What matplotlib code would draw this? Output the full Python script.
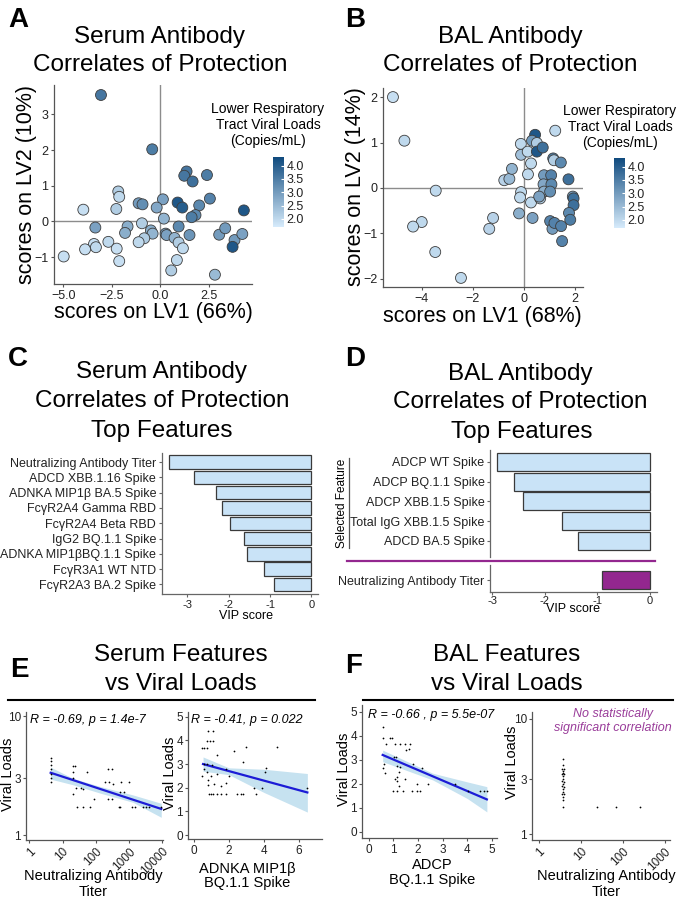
import numpy as np
import matplotlib
matplotlib.use("Agg")
import matplotlib.pyplot as plt
from matplotlib.colors import LinearSegmentedColormap
from matplotlib.lines import Line2D
from matplotlib.ticker import FixedLocator, NullLocator

plt.rcParams['font.family'] = ['Liberation Sans', 'DejaVu Sans']
plt.rcParams['axes.linewidth'] = 0.9

W, H = 682, 900

# A: serum PLSR scores
serum_lv1 = [-3.06, -0.42, 1.35, 1.23, 1.66, 2.40, 2.55, 2.00, 0.89, 1.13, 1.81, 1.61, 4.30,
             0.13, -0.19, 0.18, 0.94, -1.12, -0.92, -0.95, -0.49, -0.40, 0.27, 0.32, 0.73, 0.94,
             1.16, 0.85, 0.56, 1.50, 2.81, 3.03, 3.34, 3.82, 3.72, 4.22, -2.17, -2.12, -2.27,
             -3.97, -3.35, -1.69, -1.82, -0.83, -1.12, -2.68, -3.42, -3.32, -3.88, -2.25, -2.12, -4.98]
serum_lv2 = [3.54, 2.02, 1.40, 1.28, 1.12, 1.30, 0.64, 0.45, 0.53, 0.39, 0.18, 0.12, 0.31,
             0.62, 0.39, 0.08, -0.14, 0.51, 0.48, -0.05, -0.25, -0.34, -0.34, -0.38, -0.46, -0.59,
             -0.75, -1.08, -1.37, -0.38, -1.49, -0.37, -0.19, -0.52, -0.71, -0.35, 0.84, 0.69, 0.35,
             0.33, -0.17, -0.14, -0.32, -0.47, -0.58, -0.57, -0.63, -0.72, -0.78, -0.76, -1.11, -0.98]
serum_vl = [3.6, 3.5, 3.6, 3.6, 3.7, 3.5, 3.4, 3.3, 4.1, 4.0, 3.3, 3.5, 4.1,
            2.9, 2.8, 2.6, 3.3, 3.0, 3.2, 2.2, 2.7, 2.6, 3.0, 2.9, 2.6, 2.2,
            2.0, 2.0, 2.2, 3.1, 2.5, 3.0, 3.0, 3.0, 4.1, 2.9, 2.2, 2.0, 2.2,
            1.9, 2.9, 2.7, 2.7, 2.2, 2.0, 2.0, 1.9, 2.0, 1.9, 1.9, 1.9, 1.9]

# B: BAL PLSR scores
bal_lv1 = [-5.13, -4.68, -3.45, -4.0, -4.34, -3.47, -2.46, -1.20, -1.35, -0.76, -0.56, -0.46,
           -0.11, -0.10, -0.10, -0.14, -0.18, 0.16, 0.45, 0.33, 0.52, 0.52, 0.75, 0.29, 0.17,
           0.29, 0.35, 1.24, 1.16, 1.19, 1.46, 0.80, 1.08, 0.78, 1.09, 0.80, 1.04, 0.65, 0.61,
           1.76, 1.93, 1.96, 1.96, 1.78, 1.83, 1.04, 1.13, 1.21, 1.47, 1.51]
bal_lv2 = [2.0, 1.04, -0.06, -0.75, -0.85, -1.41, -1.98, -0.66, -0.90, 0.17, 0.20, 0.42,
           0.97, 0.73, -0.09, -0.21, -0.56, 0.80, 1.17, 1.04, 0.99, 0.80, 0.89, 0.54, 0.30,
           -0.32, -0.66, 1.26, 0.65, 0.61, 0.56, 0.28, 0.28, 0.08, 0.08, -0.08, -0.08, -0.23, -0.19,
           0.19, -0.19, -0.23, -0.38, -0.55, -0.70, -0.73, -0.90, -0.77, -0.84, -1.17]
bal_vl = [1.9, 2.0, 2.0, 2.0, 2.0, 2.0, 2.0, 2.1, 2.1, 2.1, 2.5, 2.6,
          2.0, 2.4, 2.0, 2.0, 2.7, 2.0, 4.1, 3.0, 2.2, 4.1, 3.7, 2.0, 2.0,
          2.0, 2.9, 2.0, 3.5, 2.2, 3.3, 3.0, 3.4, 2.8, 3.3, 2.7, 3.2, 2.2, 2.9,
          3.7, 3.0, 3.7, 3.7, 3.3, 3.5, 3.4, 3.0, 3.4, 3.4, 3.4]

# C: serum top features (VIP)
serum_features = ["Neutralizing Antibody Titer", "ADCD XBB.1.16 Spike", "ADNKA MIP1β BA.5 Spike",
                  "FcγR2A4 Gamma RBD", "FcγR2A4 Beta RBD", "IgG2 BQ.1.1 Spike",
                  "ADNKA MIP1βBQ.1.1 Spike", "FcγR3A1 WT NTD", "FcγR2A3 BA.2 Spike"]
serum_vip = [-3.44, -2.85, -2.31, -2.15, -1.97, -1.62, -1.55, -1.14, -0.91]

# D: BAL top features (VIP)
bal_features = ["ADCP WT Spike", "ADCP BQ.1.1 Spike", "ADCP XBB.1.5 Spike",
                "Total IgG XBB.1.5 Spike", "ADCD BA.5 Spike"]
bal_vip = [-2.90, -2.59, -2.41, -1.67, -1.37]
bal_neut_feature = ["Neutralizing Antibody Titer"]
bal_neut_vip = [-0.91]

# E left: neutralizing titer vs viral load (serum)
e1_x = [4.4, 4.4, 4.4, 4.4, 4.4, 4.4, 4.4, 21, 23, 21, 21, 21, 25, 27.5, 37, 40, 42, 55, 69, 89,
        186, 234, 316, 251, 331, 234, 309, 589, 1000, 525, 692, 501, 550, 1259, 1479, 2630, 3311,
        3890, 9330]
e1_y = [4.5, 4.2, 3.9, 3.6, 3.3, 3.0, 2.8, 3.8, 3.8, 3.4, 3.0, 2.2, 2.5, 1.73, 2.5, 2.45, 1.73,
        3.4, 1.73, 2.0, 2.8, 3.6, 3.6, 2.8, 2.7, 2.0, 2.0, 2.8, 2.8, 2.3, 2.3, 1.73, 1.73, 1.73,
        1.73, 1.73, 1.73, 1.73, 1.73]
e1_fit_x = [4.4, 21, 140, 1300, 9300]
e1_fit_y = [3.35, 2.88, 2.42, 2.04, 1.66]
e1_lo = [2.96, 2.65, 2.25, 1.89, 1.41]
e1_hi = [3.73, 3.00, 2.56, 2.18, 1.85]

# E right: ADNKA MIP1b BQ.1.1 vs viral load
e2_x = [0.8, 1.1, 0.75, 0.9, 1.1, 0.48, 0.6, 0.77, 1.34, 2.27, 2.95, 4.73, 0.57, 0.77, 1.05,
        0.73, 0.55, 0.48, 0.97, 1.34, 1.81, 2.0, 0.82, 1.14, 1.53, 1.81, 0.8, 2.8, 4.13, 4.08,
        3.87, 3.43, 6.48, 0.86, 0.99, 1.11, 1.34, 1.57, 1.81, 2.48, 2.67, 2.82, 3.53]
e2_y = [4.4, 4.4, 3.96, 3.96, 3.96, 3.68, 3.68, 3.68, 3.4, 3.54, 3.7, 3.7, 3.0, 3.0, 2.97,
        2.66, 2.8, 2.5, 2.5, 2.6, 2.78, 2.5, 2.32, 2.14, 2.07, 2.18, 2.1, 3.08, 2.83, 2.66,
        2.0, 2.0, 2.0, 1.74, 1.74, 1.74, 1.74, 1.74, 1.74, 1.74, 1.74, 1.74, 1.74]
e2_fit_x = [0.52, 2.0, 4.0, 6.48]
e2_fit_y = [3.0, 2.7, 2.3, 1.8]
e2_lo = [2.7, 2.55, 1.8, 0.97]
e2_hi = [3.3, 2.84, 2.78, 2.6]

# F left: ADCP BQ.1.1 vs viral load (BAL)
f1_x = [0.58, 0.58, 0.85, 0.94, 0.71, 1.08, 1.26, 1.49, 1.66, 1.62, 1.5, 0.61, 0.57, 0.67, 1.01,
        1.12, 1.17, 1.25, 1.15, 1.08, 1.15, 1.28, 1.48, 1.25, 1.82, 2.16, 1.96, 2.39, 1.0, 1.15,
        1.38, 1.76, 1.96, 2.09, 3.51, 4.05, 4.52, 4.68, 4.79]
f1_y = [4.35, 3.9, 3.9, 3.9, 3.67, 3.67, 3.67, 3.67, 3.67, 3.45, 3.4, 2.82, 2.64, 2.46, 3.1,
        3.1, 2.74, 2.5, 2.3, 2.2, 2.1, 2.7, 2.2, 1.9, 2.82, 2.64, 2.0, 2.0, 1.72, 1.72,
        1.72, 1.72, 1.72, 1.72, 2.0, 1.72, 1.72, 1.72, 1.72]
f1_fit_x = [0.57, 2.6, 4.0, 4.8]
f1_fit_y = [3.2, 2.31, 1.7, 1.35]
f1_lo = [2.92, 2.16, 1.39, 0.83]
f1_hi = [3.4, 2.44, 2.08, 1.88]

# F right: neutralizing titer vs viral load (BAL)
f2_x = [3.8, 3.8, 3.6, 3.9, 3.7, 3.8, 3.6, 4.0, 3.7, 3.8, 3.6, 3.9, 3.75, 3.6, 3.9, 3.7, 3.8,
        3.6, 3.95, 3.7, 3.8, 3.8, 24.6, 69, 260]
f2_y = [4.5, 4.0, 3.7, 3.7, 3.55, 3.4, 3.35, 3.35, 3.2, 3.0, 2.9, 2.85, 2.7, 2.6, 2.55, 2.45,
        2.3, 2.25, 2.25, 2.1, 2.0, 1.73, 1.73, 1.73, 1.73]

cmap = LinearSegmentedColormap.from_list("vl", ["#d6ebfb", "#0f4a7e"])
BAR = "#c9e3f7"
PURPLE = "#93278f"

fig = plt.figure(figsize=(W / 100, H / 100), dpi=100)


def px_axes(l, t, r, b):
    return fig.add_axes([l / W, 1 - b / H, (r - l) / W, (b - t) / H])


def px_text(x, y, s, **kw):
    fig.text(x / W, 1 - y / H, s, **kw)


def px_line(x0, x1, y0, y1, **kw):
    fig.add_artist(Line2D([x0 / W, x1 / W], [1 - y0 / H, 1 - y1 / H],
                          transform=fig.transFigure, **kw))


def classic(ax, size=9.5, color='#555555'):
    for s in ['top', 'right']:
        ax.spines[s].set_visible(False)
    for s in ['left', 'bottom']:
        ax.spines[s].set_color(color)
    ax.tick_params(length=2.5, width=0.8, color=color, labelsize=size, pad=1.5,
                   labelcolor='#222222')


# ---------- panel titles ----------
big = dict(fontsize=17.5, ha='center', va='baseline')
letter = dict(fontsize=20, fontweight='bold', va='baseline', ha='left')
px_text(8, 27, "A", **letter)
px_text(160, 43, "Serum Antibody", **big)
px_text(160, 71, "Correlates of Protection", **big)
px_text(345, 27, "B", **letter)
px_text(510, 43, "BAL Antibody", **big)
px_text(510, 71, "Correlates of Protection", **big)
px_text(8, 366, "C", **letter)
px_text(162, 378, "Serum Antibody", **big)
px_text(162, 407, "Correlates of Protection", **big)
px_text(162, 437, "Top Features", **big)
px_text(345, 366, "D", **letter)
px_text(520, 380, "BAL Antibody", **big)
px_text(520, 408, "Correlates of Protection", **big)
px_text(522, 438, "Top Features", **big)
px_text(10, 677, "E", **letter)
px_text(181, 661, "Serum Features", **big)
px_text(181, 690, "vs Viral Loads", **big)
px_text(345, 673, "F", **letter)
px_text(507, 661, "BAL Features", **big)
px_text(507, 690, "vs Viral Loads", **big)
px_line(8, 315, 700, 700, color='black', lw=1.5)
px_line(363, 673, 700, 700, color='black', lw=1.5)

# ---------- A / B score plots ----------
score_panels = [
    (serum_lv1, serum_lv2, serum_vl, (54, 85, 252, 284), (-5.48, 4.72), (-1.75, 3.82),
     [-5.0, -2.5, 0.0, 2.5], [-1, 0, 1, 2, 3], "scores on LV1 (66%)", "scores on LV2 (10%)",
     (153, 318), (27, 184), (273, 157, 284, 227), (268, 125)),
    (bal_lv1, bal_lv2, bal_vl, (383, 88, 583, 287), (-5.52, 2.33), (-2.18, 2.2),
     [-4, -2, 0, 2], [-2, -1, 0, 1, 2], "scores on LV1 (68%)", "scores on LV2 (14%)",
     (482, 322), (355, 187), (614, 158, 625, 228), (620, 127)),
]
for (lx, ly, vl, box, xl, yl, xt, yt, xlab, ylab, xlpos, ylpos, cbox, legpos) in score_panels:
    ax = px_axes(*box)
    ax.axvline(0, color='#8c8c8c', lw=1, zorder=1)
    ax.axhline(0, color='#8c8c8c', lw=1, zorder=1)
    sc = ax.scatter(lx, ly, c=vl, cmap=cmap, vmin=1.7, vmax=4.32, s=62,
                    edgecolors='#3d3d3d', linewidths=0.6, zorder=3)
    ax.set_xlim(*xl)
    ax.set_ylim(*yl)
    ax.set_xticks(xt)
    ax.set_yticks(yt)
    if isinstance(xt[0], float):
        ax.set_xticklabels([f"{v:.1f}".replace("-", "\u2212") for v in xt])
    classic(ax, size=9)
    px_text(xlpos[0], xlpos[1], xlab, fontsize=15.5, ha='center', va='baseline')
    px_text(ylpos[0], ylpos[1], ylab, fontsize=15.5, ha='center', va='center', rotation=90)
    cax = px_axes(*cbox)
    cb = fig.colorbar(sc, cax=cax)
    cb.outline.set_visible(False)
    cb.set_ticks([2.0, 2.5, 3.0, 3.5, 4.0])
    cb.set_ticklabels(["2.0", "2.5", "3.0", "3.5", "4.0"])
    cax.tick_params(length=2, width=0.8, color='white', direction='in', labelsize=9,
                    pad=2, labelcolor='#222222')
    px_text(legpos[0], legpos[1], "Lower Respiratory\nTract Viral Loads\n(Copies/mL)",
            fontsize=10, ha='center', va='center', linespacing=1.22)

# ---------- C ----------
ax = px_axes(161.7, 453, 318, 594.3)
pos = np.arange(len(serum_features))
ax.barh(pos, serum_vip, height=0.88, color=BAR, edgecolor='#3a3a3a', linewidth=0.9)
ax.set_xlim(-3.62, 0.16)
ax.set_ylim(len(serum_features) - 0.35, -0.6)
ax.set_yticks(pos)
ax.set_yticklabels(serum_features)
ax.set_xticks([-3, -2, -1, 0])
ax.set_xticklabels(["-3", "-2", "-1", "0"])
classic(ax, size=9, color='#666666')
ax.tick_params(axis='x', labelsize=8)
px_text(246, 619, "VIP score", fontsize=9, ha='center', va='baseline')

# ---------- D ----------
axt = px_axes(490, 450, 657, 557)
pos = np.arange(len(bal_features))
axt.barh(pos, bal_vip, height=0.9, color=BAR, edgecolor='#3a3a3a', linewidth=0.9)
axt.set_xlim(-3.04, 0.13)
axt.set_ylim(len(bal_features) - 1 + 0.83, -0.61)
axt.set_yticks(pos)
axt.set_yticklabels(bal_features)
classic(axt, size=9, color='#666666')
axt.spines['bottom'].set_visible(False)
axt.set_xticks([])

axb = px_axes(490, 565, 657, 592.3)
axb.barh([0], bal_neut_vip, height=0.9, color=PURPLE, edgecolor='#3a3a3a', linewidth=0.9)
axb.set_xlim(-3.04, 0.13)
axb.set_ylim(0.62, -0.76)
axb.set_yticks([0])
axb.set_yticklabels(bal_neut_feature)
axb.set_xticks([-3, -2, -1, 0])
axb.set_xticklabels(["-3", "-2", "-1", "0"])
classic(axb, size=9, color='#666666')
axb.tick_params(axis='x', labelsize=8, pad=0.5)
px_text(573, 612, "VIP score", fontsize=9, ha='center', va='baseline')
px_line(347, 655, 561, 561, color=PURPLE, lw=1.6)
px_line(349, 349, 458, 548, color='#555555', lw=0.9)
px_text(342, 503, "Selected Feature", fontsize=8.5, ha='center', va='center', rotation=90)


# ---------- E / F correlation plots ----------
def corr_panel(box, x, y, xlim, ylim, logx, logy, xt, yt, fit=None):
    ax = px_axes(*box)
    if logx:
        ax.set_xscale('log')
    if logy:
        ax.set_yscale('log')
    if fit is not None:
        fx, fy, lo, hi = fit
        ax.fill_between(fx, lo, hi, color='#c6e2f0', lw=0, zorder=1)
        ax.plot([fx[0], fx[-1]], [fy[0], fy[-1]], color='#1c1cd6', lw=1.6, zorder=2)
    ax.scatter(x, y, s=1.6, color='black', linewidths=0, zorder=3)
    ax.set_xlim(*xlim)
    ax.set_ylim(*ylim)
    ax.xaxis.set_major_locator(FixedLocator(xt))
    ax.yaxis.set_major_locator(FixedLocator(yt))
    ax.xaxis.set_minor_locator(NullLocator())
    ax.yaxis.set_minor_locator(NullLocator())
    ax.set_yticklabels([str(v) for v in yt])
    if logx:
        ax.set_xticklabels([str(v) for v in xt], rotation=45, ha='right',
                           rotation_mode='anchor')
    else:
        ax.set_xticklabels([str(v) for v in xt])
    classic(ax, size=8.5, color='#555555')
    ax.tick_params(axis='y', pad=1)
    return ax


corr_panel((25.7, 712, 163, 840), e1_x, e1_y, (0.78, 10500), (0.908, 10.9), True, True,
           [1, 10, 100, 1000, 10000], [1, 3, 10], (e1_fit_x, e1_fit_y, e1_lo, e1_hi))
corr_panel((188, 712, 321.7, 839.3), e2_x, e2_y, (-0.34, 7.3), (-0.18, 5.2), False, False,
           [0, 2, 4, 6], [0, 1, 2, 3, 4, 5], (e2_fit_x, e2_fit_y, e2_lo, e2_hi))
corr_panel((362, 705, 496.7, 838.3), f1_x, f1_y, (-0.27, 5.2), (-0.27, 5.28), False, False,
           [0, 1, 2, 3, 4, 5], [0, 1, 2, 3, 4, 5], (f1_fit_x, f1_fit_y, f1_lo, f1_hi))
corr_panel((532, 712, 670, 840), f2_x, f2_y, (0.69, 1350), (0.894, 11.4), True, True,
           [1, 10, 100, 1000], [1, 3, 10])

it = dict(fontsize=9, style='italic', ha='left', va='baseline')
px_text(30, 723, "R = -0.69, p = 1.4e-7", **it)
px_text(191, 723, "R = -0.41, p = 0.022", **it)
px_text(368, 718, "R = -0.66 , p = 5.5e-07", **it)
px_text(613, 716.5, "No statistically", fontsize=9, style='italic', ha='center',
        va='baseline', color='#9a3d9a')
px_text(613, 731.5, "significant correlation", fontsize=9, style='italic', ha='center',
        va='baseline', color='#9a3d9a')

lab = dict(fontsize=10.5, ha='center', va='baseline')
rot = dict(fontsize=10.5, ha='center', va='center', rotation=90)
px_text(8, 774, "Viral Loads", **rot)
px_text(170, 773, "Viral Loads", **rot)
px_text(344, 769, "Viral Loads", **rot)
px_text(512, 762, "Viral Loads", **rot)
px_text(93, 880, "Neutralizing Antibody", **lab)
px_text(93, 895.5, "Titer", **lab)
px_text(247, 872.5, "ADNKA MIP1β", **lab)
px_text(247, 886.5, "BQ.1.1 Spike", **lab)
px_text(432, 869, "ADCP", **lab)
px_text(432, 884, "BQ.1.1 Spike", **lab)
px_text(606, 880, "Neutralizing Antibody", **lab)
px_text(606, 895.5, "Titer", **lab)

fig.savefig("out.png", dpi=100)
